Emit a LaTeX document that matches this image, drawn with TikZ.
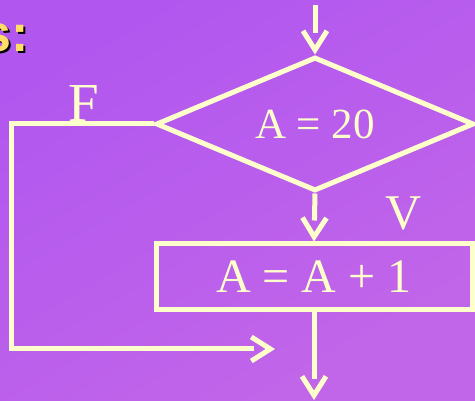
\documentclass[tikz,border=0pt]{standalone}
\usepackage{fontspec}
\setmainfont{Liberation Serif}
\newfontfamily\headfont{Liberation Sans}
\usepackage{xcolor}
\usetikzlibrary{arrows.meta,shapes.geometric,decorations.markings}
\definecolor{bgtop}{HTML}{B157EF}
\definecolor{bgbot}{HTML}{C266E9}
\definecolor{ink}{HTML}{FFFFCC}
\definecolor{headyel}{HTML}{FFDD66}

\begin{document}
\begin{tikzpicture}[x=1pt, y=-1pt,
  ln/.style={draw=ink, line width=5pt},
  ar/.style={ln, shorten >=21pt, postaction={decorate},
    decoration={markings, mark=at position 1 with
      {\arrow[ink, line width=5pt]{Straight Barb[length=19pt, width=24pt]}}}},
  dia/.style={diamond, aspect=2.4, ln, minimum width=318pt, minimum height=134pt,
              inner sep=0pt, text=ink, font=\fontsize{43}{45}\selectfont},
  box/.style={rectangle, ln, minimum width=316pt, minimum height=66pt,
              inner sep=0pt, text=ink, font=\fontsize{48}{50}\selectfont},
  lbl/.style={text=ink, inner sep=0pt, anchor=base},
  hd/.style={inner sep=0pt, anchor=base east,
             font=\headfont\bfseries\fontsize{52}{54}\selectfont}]
  \useasboundingbox (0,0) rectangle (475,401);
  \clip (0,0) rectangle (475,401);
  \shade[top color=bgtop, bottom color=bgbot, shading angle=30]
    (0,0) rectangle (475,401);
  % cropped heading
  \node[hd, text=black] (headshd) at (31,54) {s:};
  \node[hd, text=headyel] (head) at (29,52) {s:};
  % flowchart
  \node[dia] (cond) at (315,124) {A = 20};
  \node[box] (inc) at (314,277) {A = A + 1};
  \node[lbl, font=\fontsize{55}{57}\selectfont] (flab) at (84,122) {F};
  \node[lbl, font=\fontsize{50}{52}\selectfont] (vlab) at (404,230) {V};
  \coordinate (start) at (315,5);
  \coordinate (ret) at (275,349);
  \coordinate (end) at (314,400);
  \draw[ar] (start) -- (cond.north);
  \draw[ar] (cond.south) -- (inc.north);
  \draw[ar] (inc.south) -- (end);
  \draw[ar] (cond.west) -- ++(-142,0) |- (ret);
\end{tikzpicture}
\end{document}
